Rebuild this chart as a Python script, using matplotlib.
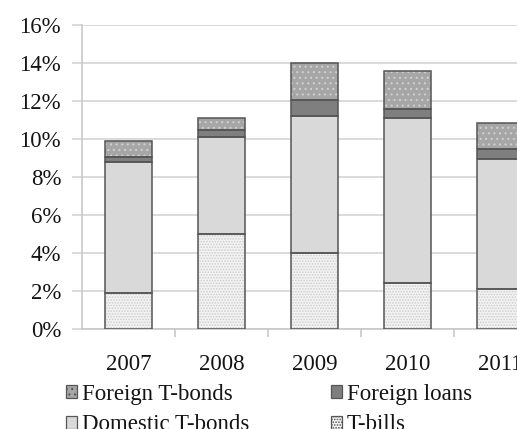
import matplotlib
matplotlib.use("Agg")
import matplotlib.pyplot as plt
import numpy as np
from matplotlib.patches import Patch
from matplotlib.ticker import PercentFormatter

plt.rcParams["font.family"] = ["Liberation Serif", "DejaVu Serif"]
plt.rcParams["hatch.linewidth"] = 0.8

years = ["2007", "2008", "2009", "2010", "2011"]
t_bills = [1.9, 5.0, 4.0, 2.4, 2.1]
domestic_tbonds = [6.9, 5.1, 7.2, 8.7, 6.85]
foreign_loans = [0.25, 0.35, 0.85, 0.5, 0.55]
foreign_tbonds = [0.85, 0.65, 1.95, 2.0, 1.35]

# name, values, face, hatch, hatch colour
series = [
    ("T-bills", t_bills, "#f3f3f3", "......", "#cdcdcd"),
    ("Domestic T-bonds", domestic_tbonds, "#d9d9d9", None, None),
    ("Foreign loans", foreign_loans, "#7f7f7f", None, None),
    ("Foreign T-bonds", foreign_tbonds, "#a6a6a6", "...", "#cfcfcf"),
]
EDGE = "#555555"
TXT = "#141414"
FS = 16.5

W, H = 517, 429
fig = plt.figure(figsize=(W / 100, H / 100), dpi=100)
ax = fig.add_axes([82 / W, 100 / H, 465 / W, 304 / H])

x = np.arange(len(years))
bottom = np.zeros(len(years))
handles = {}
for name, vals, face, hatch, hcol in series:
    vals = np.array(vals)
    if hatch:
        ax.bar(x, vals, 0.5, bottom=bottom, color=face, hatch=hatch,
               edgecolor=hcol, linewidth=0, zorder=2)
    else:
        ax.bar(x, vals, 0.5, bottom=bottom, color=face, linewidth=0, zorder=2)
    ax.bar(x, vals, 0.5, bottom=bottom, fill=False, edgecolor=EDGE,
           linewidth=1.1, zorder=3)
    handles[name] = Patch(facecolor=face, edgecolor=EDGE, linewidth=0.9,
                          hatch=hatch)
    bottom += vals

ax.set_xlim(-0.5, len(years) - 0.5)
ax.set_ylim(0, 16)
ax.set_yticks(np.arange(0, 17, 2))
ax.yaxis.set_major_formatter(PercentFormatter(decimals=0))
ax.grid(axis="y", color="#d4d4d4", lw=1.2, zorder=0)
ax.set_axisbelow(True)
for s in ["top", "right"]:
    ax.spines[s].set_visible(False)
for s in ["left", "bottom"]:
    ax.spines[s].set_color("#c8c8c8")
    ax.spines[s].set_linewidth(1.2)

ax.tick_params(axis="y", length=7, width=1.2, color="#d4d4d4", pad=8,
               labelsize=FS, labelcolor=TXT)
ax.set_xticks(x)
ax.set_xticklabels(years)
ax.tick_params(axis="x", which="major", length=0, pad=18, labelsize=FS,
               labelcolor=TXT)
ax.set_xticks(x[:-1] + 0.5, minor=True)
ax.tick_params(axis="x", which="minor", length=6, width=1.2, color="#c8c8c8")

legend_kw = dict(loc="upper left", frameon=False, ncol=1, fontsize=FS,
                 handlelength=0.5, handleheight=0.5, handletextpad=0.2,
                 labelspacing=0.4, borderaxespad=0, borderpad=0,
                 labelcolor=TXT)
fig.legend([handles["Foreign T-bonds"], handles["Domestic T-bonds"]],
           ["Foreign T-bonds", "Domestic T-bonds"],
           bbox_to_anchor=(66 / W, 1 - 384 / H), **legend_kw)
fig.legend([handles["Foreign loans"], handles["T-bills"]],
           ["Foreign loans", "T-bills"],
           bbox_to_anchor=(331 / W, 1 - 384 / H), **legend_kw)

fig.savefig("out.png", dpi=100)
